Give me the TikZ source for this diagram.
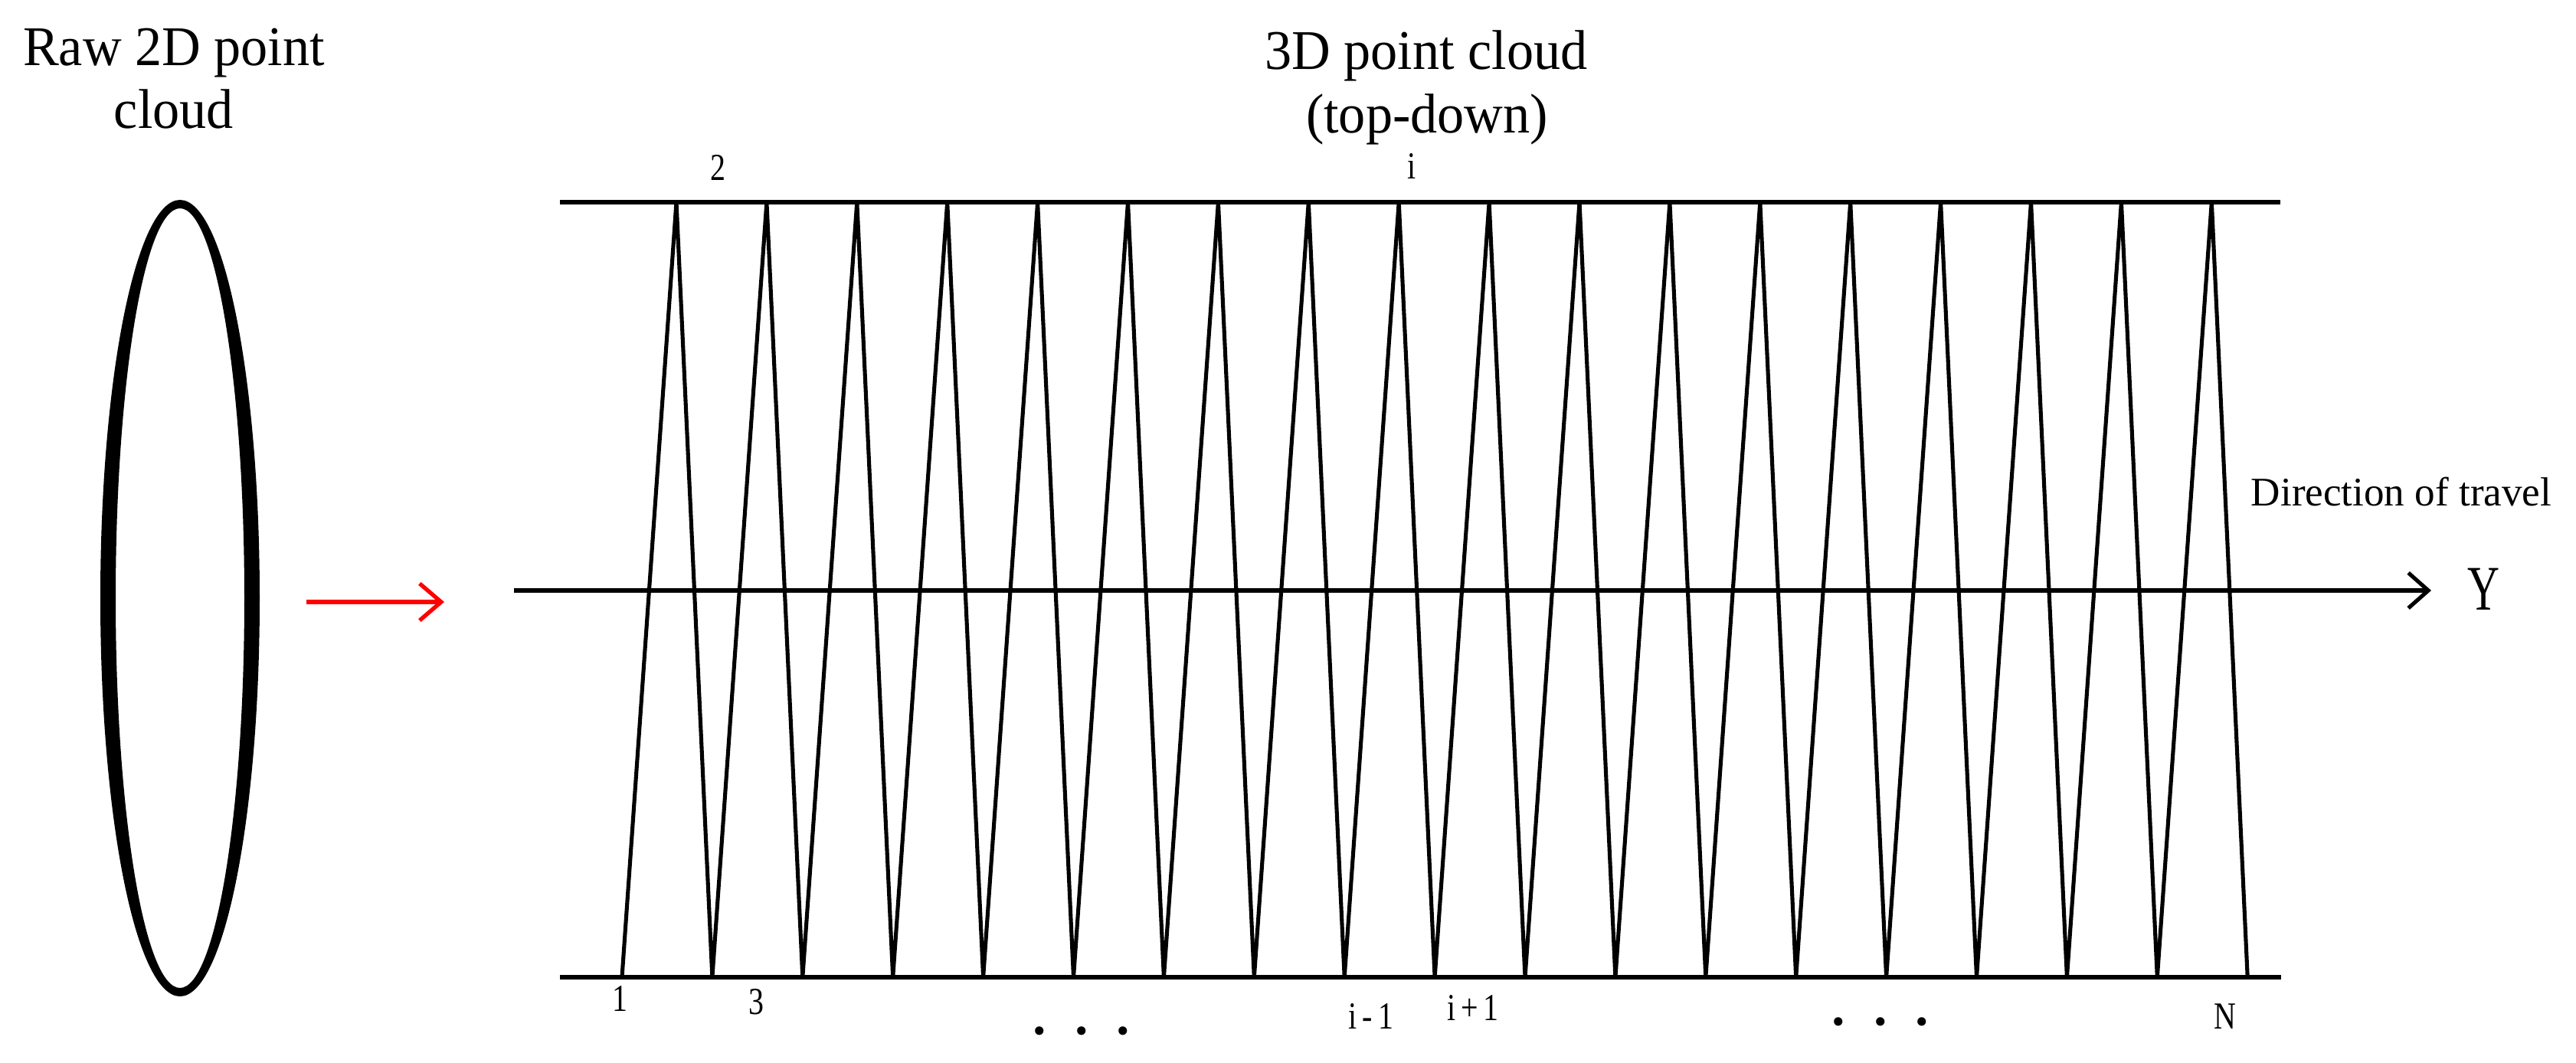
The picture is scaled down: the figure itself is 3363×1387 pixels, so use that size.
\documentclass[tikz,border=0pt]{standalone}
\usepackage{fontspec}
\setmainfont{Liberation Serif}
\newfontfamily\titlefont[FakeStretch=0.96]{Liberation Serif}
\newfontfamily\idxfont[FakeStretch=0.8,LetterSpace=14]{Liberation Serif}
\newfontfamily\axisfont[FakeStretch=0.7]{Liberation Serif}
\usepackage{tikz}
\usetikzlibrary{arrows.meta}

\begin{document}
\begin{tikzpicture}[x=0.01cm,y=-0.01cm,
    title/.style={font=\titlefont\fontsize{20.8}{24}\selectfont,anchor=base,inner sep=0pt},
    idx/.style={font=\idxfont\fontsize{14.2}{16}\selectfont,anchor=base,inner sep=0pt},
    gap/.style={font=\fontsize{26.7}{30}\selectfont,anchor=base,inner sep=0pt},
    rail/.style={line width=1.6pt},
    zigzag/.style={line width=1.45pt,line join=miter}]
            \useasboundingbox (0,0) rectangle (3363,1387);

            % Titles
            \node[title] (raw1) at (227,85) {Raw 2D point};
            \node[title] (raw2) at (227,167) {cloud};
            \node[title] (top1) at (1862,90) {3D point cloud};
            \node[title] (top2) at (1863,173) {(top-down)};

            % Raw 2D ring
            \fill[even odd rule] (235,781) ellipse [x radius=104,y radius=520]
                                 (235,781) ellipse [x radius=84,y radius=509];

            % Red arrow
            \coordinate (rs) at (400,786);
            \coordinate (re) at (580,786);
            \draw[red, line width=1.5pt, -{Straight Barb[length=8pt,width=13.7pt]}] (rs) -- (re);

            % Rails (top and bottom)
            \coordinate (tl) at (731,264);
            \coordinate (tr) at (2977,264);
            \coordinate (bl) at (731,1276);
            \coordinate (br) at (2978,1276);
            \draw[rail] (tl) -- (tr);
            \draw[rail] (bl) -- (br);

            % Zigzag scan lines
            \foreach \k in {0,...,18} {
              \coordinate (b\k) at ({812+117.9*\k},1276);
            }
            \foreach \k in {0,...,17} {
              \coordinate (t\k) at ({883+117.9*\k},264);
            }
            \draw[zigzag] (b0) foreach \k [count=\n from 1] in {0,...,17} { -- (t\k) -- (b\n) };

            % Travel axis
            \coordinate (ys) at (671,771);
            \coordinate (ye) at (3174,771);
            \draw[line width=1.45pt, -{Straight Barb[length=7.4pt,width=13.1pt]}] (ys) -- (ye);
            \node[font=\fontsize{15.1}{18}\selectfont,anchor=base,inner sep=0pt] (dir) at (3135,660) {Direction of travel};
            \node[font=\axisfont\fontsize{23.6}{26}\selectfont,anchor=base,inner sep=0pt] (yax) at (3242,796) {Y};

            % Line labels
            \node[idx] (l2) at (937,235) {2};
            \node[idx] (li) at (1843,233) {i};
            \node[idx] (l1) at (809,1320) {1};
            \node[idx] (l3) at (987,1324) {3};
            \node[idx] (lim) at (1790,1343) {i-1};
            \node[idx] (lip) at (1923,1332) {i+1};
            \node[idx] (lN) at (2905,1343) {N};
            \node[gap] (g1) at (1412,1350) {. . .};
            \node[gap] (g2) at (2455,1338) {. . .};
        \end{tikzpicture}
\end{document}
